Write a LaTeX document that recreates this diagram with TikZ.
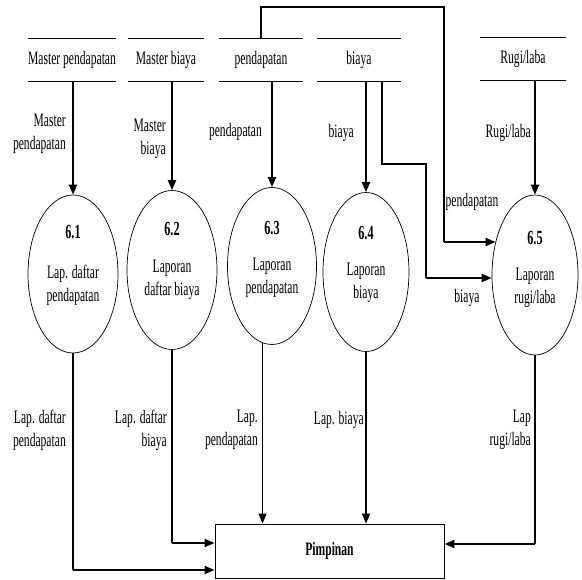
\documentclass[tikz,border=0pt]{standalone}
\usepackage{fontspec}
\setmainfont[FakeStretch=0.61]{Liberation Serif}
\usetikzlibrary{shapes.geometric,arrows.meta}

\begin{document}
\begin{tikzpicture}[x=1pt,y=-1pt,
  every node/.style={font=\fontsize{19}{23}\selectfont, inner sep=0pt},
  store/.style={minimum height=42pt},
  storeline/.style={line width=1.3pt},
  proc/.style={draw, ellipse, line width=0.7pt},
  num/.style={font=\fontsize{20}{22}\selectfont\bfseries},
  flow/.style={-{Triangle[length=10pt,width=8pt]}, line width=2pt},
  link/.style={line width=1.1pt},
  lbl/.style={align=right, anchor=east}]
\useasboundingbox (0,0) rectangle (582,580);

% Data stores
\node[store, minimum width=88pt] (msp) at (72,60) {Master pendapatan};
\node[store, minimum width=76pt] (msb) at (166,60) {Master biaya};
\node[store, minimum width=84pt] (ps) at (261,60) {pendapatan};
\node[store, minimum width=84pt] (bs) at (359,60) {biaya};
\node[store, minimum width=86pt] (rl) at (523,59) {Rugi/laba};
\foreach \s in {msp,msb,ps,bs,rl}
  \draw[storeline] (\s.north west) -- (\s.north east) (\s.south west) -- (\s.south east);

% Processes
\node[proc, minimum width=90pt, minimum height=158pt] (p61) at (73,274) {};
\node[proc, minimum width=90pt, minimum height=159pt] (p62) at (172,270) {};
\node[proc, minimum width=89pt, minimum height=157pt] (p63) at (272,266) {};
\node[proc, minimum width=86pt, minimum height=159pt] (p64) at (366,272) {};
\node[proc, minimum width=86pt, minimum height=160pt] (p65) at (535,275) {};

\node[num] (n61) at ([yshift=42pt]p61.center) {6.1};
\node[num] (n62) at ([yshift=41pt]p62.center) {6.2};
\node[num] (n63) at ([yshift=38pt]p63.center) {6.3};
\node[num] (n64) at ([yshift=39pt]p64.center) {6.4};
\node[num] (n65) at ([yshift=37pt]p65.center) {6.5};

\node[align=center] (t61) at ([yshift=-11pt]p61.center) {Lap. daftar\\pendapatan};
\node[align=center] (t62) at ([yshift=-10pt]p62.center) {Laporan\\daftar biaya};
\node[align=center] (t63) at ([yshift=-12pt]p63.center) {Laporan\\pendapatan};
\node[align=center] (t64) at ([yshift=-11pt]p64.center) {Laporan\\biaya};
\node[align=center] (t65) at ([yshift=-13pt]p65.center) {Laporan\\rugi/laba};

% External entity
\node[draw, line width=0.9pt, minimum width=229pt, minimum height=54pt] (pim) at (329.5,551) {\bfseries Pimpinan};

% Flows from the stores
\draw[flow] (msp.south -| p61) -- (p61);
\draw[flow] (msb.south -| p62) -- (p62);
\draw[flow] (ps.south -| p63) -- (p63);
\draw[flow] (bs.south -| p64) -- (p64);
\draw[flow] (rl.south -| p65) -- (p65);

\node[lbl] (l61) at (66,134) {Master\\pendapatan};
\node[lbl] (l62) at (166,139) {Master\\biaya};
\node[lbl] (l63) at (262,132) {pendapatan};
\node[lbl] (l64) at (354,133) {biaya};
\node[lbl] (l65) at (531,133) {Rugi/laba};

% pendapatan and biaya into 6.5
\coordinate (c1) at (444,7);
\coordinate (c2) at (444,242);
\draw[link] (ps.north) |- (c1) -- (c2);
\draw[flow] (c2) -- (c2 -| p65.140);
\coordinate (b1) at (382,164);
\coordinate (b2) at (426,278);
\draw[link] (bs.south -| b1) -- (b1) -| (b2);
\draw[flow] (b2) -- (b2 -| p65.west);
\node (lp) at (472,202) {pendapatan};
\node (lb) at (467,298) {biaya};

% Reports to Pimpinan
\coordinate (k1) at (73,570);
\coordinate (k2) at (172,543);
\coordinate (k5) at (535,544);
\draw[link] (p61.south) -- (k1);
\draw[flow] (k1) -- (k1 -| pim.west);
\draw[link] (p62.south) -- (k2);
\draw[flow] (k2) -- (k2 -| pim.west);
\draw[flow, line width=1.3pt] (p63.-97) -- (p63.-97 |- pim.north);
\draw[flow, line width=1.3pt] (p64.south) -- (p64.south |- pim.north);
\draw[link] (p65.south) -- (k5);
\draw[flow] (k5) -- (k5 -| pim.east);

\node[lbl] (r61) at (66,430) {Lap. daftar\\pendapatan};
\node[lbl] (r62) at (167,430) {Lap. daftar\\biaya};
\node[lbl] (r63) at (258,430) {Lap.\\pendapatan};
\node[lbl] (r64) at (364,420) {Lap. biaya};
\node[lbl] (r65) at (531,430) {Lap\\rugi/laba};
\end{tikzpicture}
\end{document}
